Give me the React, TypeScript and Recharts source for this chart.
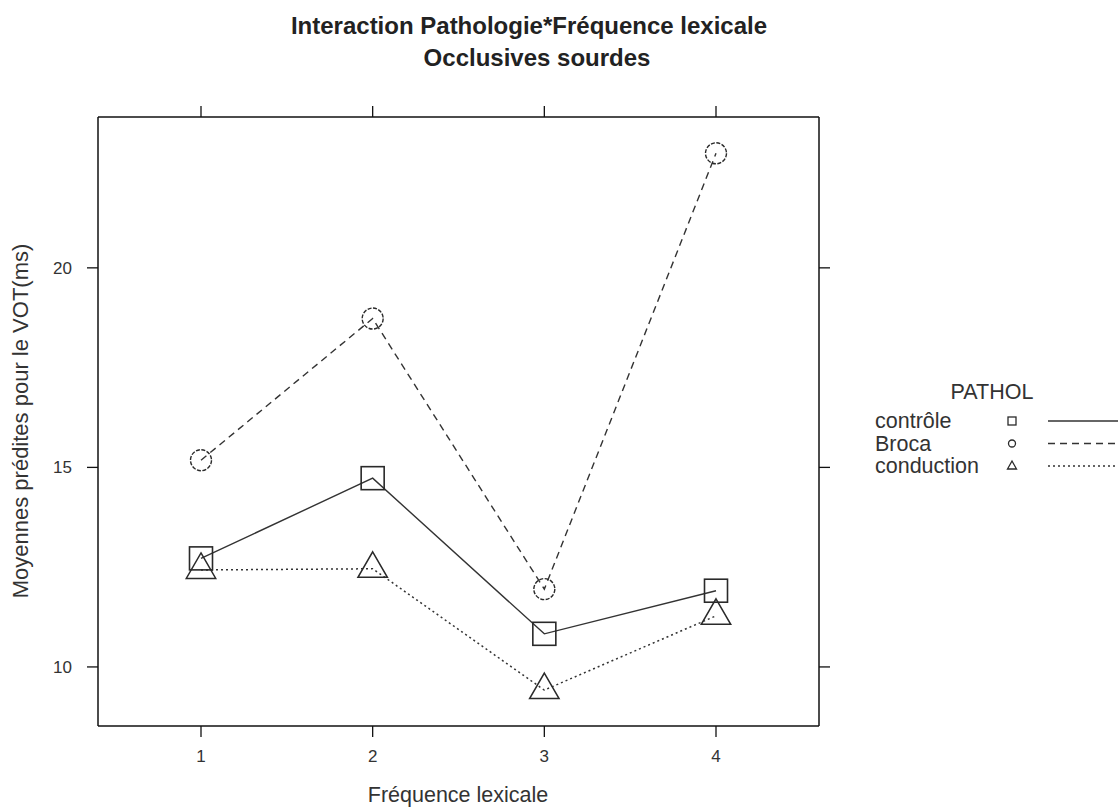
import React from "react";
import { LineChart, Line, XAxis, YAxis } from "recharts";

const categories = [1, 2, 3, 4];
const controle = [12.72, 14.73, 10.83, 11.91];
const broca = [15.18, 18.73, 11.95, 22.87];
const conduction = [12.43, 12.46, 9.42, 11.28];
const yTicks = [10, 15, 20];
const seriesNames = ["contrôle", "Broca", "conduction"];

const data = categories.map((c, i) => ({
  x: c,
  controle: controle[i],
  broca: broca[i],
  conduction: conduction[i],
}));

const FONT = "'Liberation Sans', Arial, sans-serif";
const INK = "#2a2a2a";
const LINE = "#333";

const SquareDot = (p: any) => {
  const { cx, cy } = p;
  if (cx == null || cy == null) return <g />;
  return <rect x={cx - 11.5} y={cy - 11.5} width={23} height={23} fill="none" stroke={INK} strokeWidth={1.6} />;
};
const CircleDot = (p: any) => {
  const { cx, cy } = p;
  if (cx == null || cy == null) return <g />;
  return <circle cx={cx} cy={cy} r={10.5} fill="none" stroke={INK} strokeWidth={1.4} strokeDasharray="4 1.5" />;
};
const TriDot = (p: any) => {
  const { cx, cy } = p;
  if (cx == null || cy == null) return <g />;
  const r = 17;
  const xc = r * Math.sqrt(3) / 2;
  const pts = `${cx},${cy - r} ${cx + xc},${cy + r / 2} ${cx - xc},${cy + r / 2}`;
  return <polygon points={pts} fill="none" stroke={INK} strokeWidth={1.5} />;
};
const EmptyTick = () => <g />;

export default function App() {
  const domainX: [number, number] = [0.4, 4.6];
  const domainY: [number, number] = [8.52, 23.78];
  const tickStyle = { fill: "#333", fontSize: 17, fontFamily: FONT };
  const axisLine = { stroke: "#111", strokeWidth: 1.5 };
  const tickLine = { stroke: "#111", strokeWidth: 1.3 };
  return (
    <div style={{ position: "absolute", left: 0, top: 0, width: 1118, height: 809, background: "#fff" }}>
      <LineChart
        width={1118}
        height={809}
        data={data}
        margin={{ top: 116, right: 298, bottom: 43, left: 38 }}
      >
        <XAxis
          xAxisId="b"
          dataKey="x"
          type="number"
          domain={domainX}
          ticks={categories}
          allowDataOverflow
          height={40}
          tickSize={11}
          tickMargin={13}
          axisLine={axisLine}
          tickLine={tickLine}
          tick={tickStyle}
        />
        <XAxis
          xAxisId="t"
          orientation="top"
          dataKey="x"
          type="number"
          domain={domainX}
          ticks={categories}
          allowDataOverflow
          height={1}
          tickSize={11}
          axisLine={axisLine}
          tickLine={tickLine}
          tick={EmptyTick}
        />
        <YAxis
          yAxisId="l"
          type="number"
          domain={domainY}
          ticks={yTicks}
          allowDataOverflow
          width={60}
          tickSize={11}
          tickMargin={15}
          axisLine={axisLine}
          tickLine={tickLine}
          tick={tickStyle}
        />
        <YAxis
          yAxisId="r"
          orientation="right"
          type="number"
          domain={domainY}
          ticks={yTicks}
          allowDataOverflow
          width={1}
          tickSize={11}
          axisLine={axisLine}
          tickLine={tickLine}
          tick={EmptyTick}
        />
        <Line xAxisId="t" yAxisId="r" dataKey="controle" stroke="none" dot={false} activeDot={false} legendType="none" isAnimationActive={false} />
        <Line xAxisId="b" yAxisId="l" dataKey="controle" stroke={LINE} strokeWidth={1.4} dot={SquareDot} isAnimationActive={false} />
        <Line xAxisId="b" yAxisId="l" dataKey="broca" stroke={LINE} strokeWidth={1.4} strokeDasharray="7 5" dot={CircleDot} isAnimationActive={false} />
        <Line xAxisId="b" yAxisId="l" dataKey="conduction" stroke={LINE} strokeWidth={1.5} strokeDasharray="2 3" dot={TriDot} isAnimationActive={false} />
      </LineChart>
      <svg width={1118} height={809} style={{ position: "absolute", left: 0, top: 0, pointerEvents: "none" }} fontFamily={FONT}>
        <text x={529} y={25} textAnchor="middle" dominantBaseline="central" fontSize={24} fontWeight="bold" fill="#222">
          Interaction Pathologie*Fréquence lexicale
        </text>
        <text x={537} y={57} textAnchor="middle" dominantBaseline="central" fontSize={24} fontWeight="bold" fill="#222">
          Occlusives sourdes
        </text>
        <text x={458} y={795} textAnchor="middle" dominantBaseline="central" fontSize={21.5} fill="#333">
          Fréquence lexicale
        </text>
        <text x={20} y={421} textAnchor="middle" dominantBaseline="central" fontSize={22} fill="#333" transform="rotate(-90 20 421)">
          Moyennes prédites pour le VOT(ms)
        </text>
        <text x={992} y={392} textAnchor="middle" dominantBaseline="central" fontSize={21.5} fill="#333">PATHOL</text>
        {seriesNames.map((n, i) => {
          const y = 421 + i * 22.5;
          return (
            <g key={n}>
              <text x={875} y={y} dominantBaseline="central" fontSize={21.5} fill="#333">{n}</text>
              {i === 0 && <rect x={1008} y={y - 4} width={8} height={8} fill="none" stroke={INK} strokeWidth={1.3} />}
              {i === 1 && <circle cx={1012} cy={y} r={3.5} fill="none" stroke={INK} strokeWidth={1.3} />}
              {i === 2 && <polygon points={`1012,${y - 5} 1016.5,${y + 3} 1007.5,${y + 3}`} fill="none" stroke={INK} strokeWidth={1.3} />}
              <line x1={1048} x2={1118} y1={y} y2={y} stroke={LINE} strokeWidth={1.4} strokeDasharray={i === 0 ? undefined : i === 1 ? "7 5" : "2 3"} />
            </g>
          );
        })}
      </svg>
    </div>
  );
}
